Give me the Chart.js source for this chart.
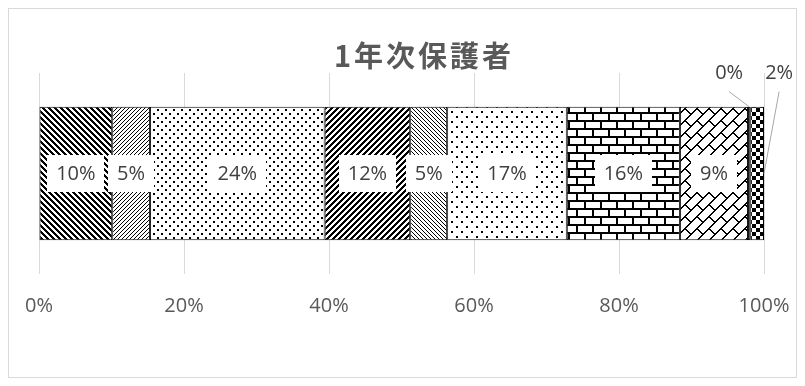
<!DOCTYPE html>
<html><head><meta charset="utf-8">
<script src="https://cdn.jsdelivr.net/npm/chart.js@4/dist/chart.umd.min.js"></script>
<style>html,body{margin:0;padding:0;background:#fff}#wrap{position:relative;width:805px;height:386px}</style>
</head><body><div id="wrap"><canvas id="c" width="805" height="386"></canvas></div>
<script>
const chartTitle = '1年次保護者';
const categories = ['1年次保護者'];
const seriesNames = ['項目1','項目2','項目3','項目4','項目5','項目6','項目7','項目8','項目9','項目10'];
const seriesValues = [10.1, 5.2, 24.1, 11.8, 5.1, 16.5, 15.6, 9.4, 0.3, 1.9];
const labelTexts = ['10%','5%','24%','12%','5%','17%','16%','9%','0%','2%'];
const tickValues = [0, 20, 40, 60, 80, 100];
const patternKinds = ['wdown','lup','dots1','wup','ldown','dots2','hbrick','dbrick','blank','checker'];

function makePattern(kind){
  const specs = {wdown:6,lup:4,dots1:8,wup:6,ldown:4,dots2:10,hbrick:16,dbrick:24,checker:8,blank:4};
  const n = specs[kind];
  const cv = document.createElement('canvas'); cv.width = n; cv.height = n;
  const g = cv.getContext('2d');
  g.fillStyle = '#fff'; g.fillRect(0,0,n,n);
  g.fillStyle = '#000';
  const mod = (a,m)=>((a%m)+m)%m;
  for(let y=0;y<n;y++) for(let x=0;x<n;x++){
    let on=false;
    if(kind==='wdown') on = mod(x-y,6)<3;
    else if(kind==='wup') on = mod(x+y,6)<3;
    else if(kind==='lup') on = mod(x+y,4)===0;
    else if(kind==='ldown') on = mod(x-y,4)===0;
    else if(kind==='checker') on = ((x<4)===(y<4));
    else if(kind==='dbrick'){
      const u=mod(x+y,24), v=mod(x-y,24);
      on = (u%12<2) || (u<12 ? (v<2) : (v===12||v===13));
    }
    if(on) g.fillRect(x,y,1,1);
  }
  if(kind==='dots1'){ g.fillRect(1,1,2,2); g.fillRect(5,5,2,2); }
  if(kind==='dots2'){ g.fillRect(1,1,2,2); g.fillRect(6,6,2,2); }
  if(kind==='hbrick'){ g.fillRect(0,0,16,2); g.fillRect(0,8,16,2); g.fillRect(0,0,2,8); g.fillRect(8,8,2,8); }
  return document.getElementById('c').getContext('2d').createPattern(cv,'repeat');
}

const datasets = seriesValues.map((v,i)=>({
  label: seriesNames[i],
  data: [v],
  backgroundColor: makePattern(patternKinds[i]),
  borderColor: '#000',
  borderWidth: 1,
  borderSkipped: false,
  categoryPercentage: 1,
  barPercentage: 0.665
}));

const labelFont = '20px "Open Sans"';
const decor = {
  id:'decor',
  afterDatasetsDraw(chart){
    const ctx = chart.ctx;
    ctx.save();
    ctx.font = labelFont;
    ctx.textAlign='center'; ctx.textBaseline='middle';
    chart.data.datasets.forEach((ds,i)=>{
      const bar = chart.getDatasetMeta(i).data[0];
      const cx = (bar.x + bar.base)/2, cy = bar.y;
      const top = bar.y - bar.height/2;
      const txt = labelTexts[i];
      if(i < 8){
        const w = ctx.measureText(txt).width + 18, h = 37;
        ctx.fillStyle='#fff';
        ctx.fillRect(Math.round(cx - w/2), Math.round(cy - h/2), Math.round(w), h);
        ctx.fillStyle='#404040';
        ctx.fillText(txt, cx, cy+1);
      } else {
        const lx = i===8 ? cx - 20 : cx + 22;
        const ly = top - 33;
        ctx.strokeStyle='#a6a6a6'; ctx.lineWidth=1;
        ctx.beginPath();
        ctx.moveTo(lx, ly+18);
        if(i===8) ctx.lineTo(cx, top); else ctx.lineTo(bar.x, cy);
        ctx.stroke();
        ctx.fillStyle='#404040';
        ctx.fillText(txt, lx, ly);
      }
    });
    ctx.restore();
  },
  afterDraw(chart){
    const ctx = chart.ctx;
    ctx.save();
    ctx.font = 'bold 29px "Noto Sans CJK JP"';
    ctx.letterSpacing = '3px';
    ctx.fillStyle='#595959'; ctx.textAlign='center'; ctx.textBaseline='middle';
    ctx.fillText(chartTitle, 424, 56);
    ctx.letterSpacing = '0px';
    ctx.strokeStyle='#d9d9d9'; ctx.lineWidth=1;
    ctx.strokeRect(8.5,8.5,788,369);
    ctx.restore();
  }
};

new Chart(document.getElementById('c'), {
  type:'bar',
  data:{ labels: categories, datasets },
  options:{
    indexAxis:'y',
    responsive:false,
    animation:false,
    layout:{ padding:{ left:39, right:41, top:73, bottom:48 } },
    plugins:{ legend:{display:false}, tooltip:{enabled:false}, title:{display:false} },
    scales:{
      x:{
        stacked:true, min:0, max:100,
        afterBuildTicks(scale){ scale.ticks = tickValues.map(v=>({value:v})); },
        afterFit(scale){ scale.paddingLeft = 0; scale.paddingRight = 0; },
        ticks:{ callback:v=>v+'%', color:'#595959', font:{family:'Open Sans', size:20}, padding:20, maxRotation:0, autoSkip:false },
        grid:{ color:'#d9d9d9', drawTicks:false },
        border:{ display:false }
      },
      y:{ stacked:true, display:false }
    }
  },
  plugins:[decor]
});
</script></body></html>
